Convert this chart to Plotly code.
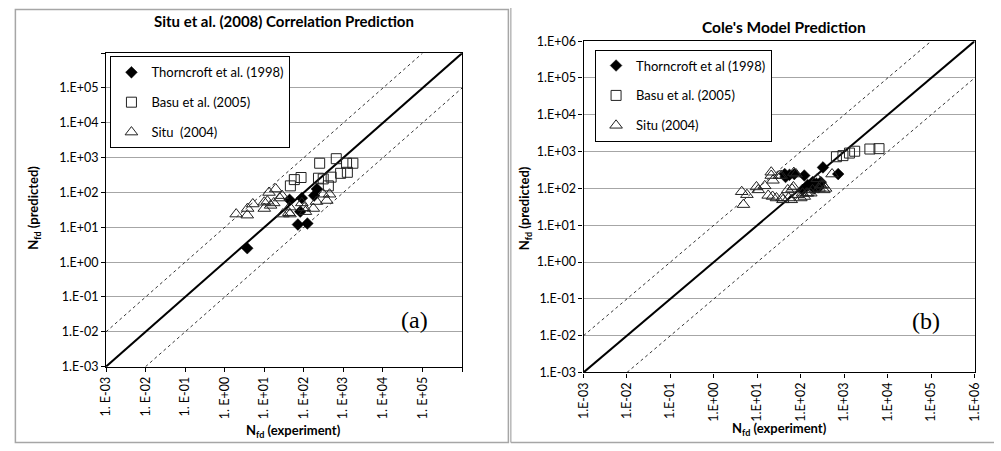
import plotly.graph_objects as go

# ---------------- data (log10 values read as N_fd) ----------------
# Panel (a): Situ et al. (2008) correlation
a_thorn_x = [0.57, 1.64, 1.95, 1.91, 1.85, 2.09, 2.26, 2.33]
a_thorn_y = [0.40, 1.79, 1.84, 1.45, 1.08, 1.11, 1.91, 2.10]

a_basu_x = [2.40, 2.82, 3.08, 3.24, 1.76, 1.93, 1.66, 2.37, 2.49, 2.69, 2.93, 3.10, 2.62]
a_basu_y = [2.84, 2.97, 2.84, 2.84, 2.37, 2.43, 2.19, 2.41, 2.39, 2.44, 2.55, 2.58, 2.19]

a_situ_x = [0.29, 0.58, 0.57, 0.71, 1.00, 1.00, 1.12, 1.29, 1.08, 1.16, 1.24, 1.39, 1.45,
            1.47, 1.62, 1.64, 1.95, 2.01, 2.24, 2.32, 2.49, 2.65, 2.58, 2.04, 1.65]
a_situ_y = [1.38, 1.54, 1.35, 1.67, 1.72, 1.54, 2.00, 2.10, 1.75, 1.63, 1.70, 1.84, 1.91,
            1.38, 1.42, 1.58, 1.70, 1.56, 1.54, 1.74, 1.95, 1.95, 1.77, 1.45, 1.38]

# Panel (b): Cole's model
b_thorn_x = [2.51, 2.86, 2.08, 1.63, 1.74, 1.85, 1.65, 2.16, 2.27, 2.36, 2.42, 2.31, 2.04, 2.46]
b_thorn_y = [2.57, 2.39, 2.35, 2.39, 2.37, 2.39, 2.31, 2.09, 2.17, 2.13, 2.04, 2.00, 1.96, 2.17]

b_basu_x = [2.82, 2.97, 3.12, 3.24, 3.59, 3.80]
b_basu_y = [2.86, 2.89, 2.96, 3.01, 3.07, 3.08]

b_situ_x = [0.64, 0.76, 0.68, 0.98, 1.02, 1.17, 1.25, 1.35, 1.32, 1.36, 1.59, 1.70, 1.78,
            1.83, 1.93, 2.04, 2.16, 2.27, 2.38, 2.51, 2.53, 2.72, 2.00, 2.08, 2.23, 2.42,
            2.46, 1.32, 1.51, 1.89, 1.44, 1.55, 1.84, 1.72, 1.57, 2.13, 2.57, 1.80]
b_situ_y = [1.91, 1.83, 1.56, 2.04, 1.96, 2.07, 1.81, 1.78, 2.35, 2.22, 1.69, 1.96, 1.69,
            2.04, 1.83, 1.87, 1.87, 1.96, 2.26, 2.09, 1.96, 2.39, 1.74, 1.78, 1.87, 2.00,
            2.09, 2.44, 2.35, 2.39, 1.74, 2.35, 2.43, 1.74, 1.74, 1.87, 2.00, 1.98]

decades = [-3, -2, -1, 0, 1, 2, 3, 4, 5, 6]
labels_b = ["1.E-03", "1.E-02", "1.E-01", "1.E+00", "1.E+01", "1.E+02",
            "1.E+03", "1.E+04", "1.E+05", "1.E+06"]
labels_a_x = ["1. E-03", "1. E-02", "1. E-01", "1. E+00", "1. E+01", "1. E+02",
              "1. E+03", "1. E+04", "1. E+05", ""]
labels_a_y = ["1.E-03", "1.E-02", "1.E-01", "1.E+00", "1.E+01", "1.E+02",
              "1.E+03", "1.E+04", "1.E+05", ""]

# reference lines: 1:1 and factor-of-ten bands
line_lo, line_hi = 1e-3, 1e6

W, H = 1001, 451
FONT = "Lato"


def px(v):
    return v / W


def py(v):
    return 1 - v / H


def pw(vals):
    return [10 ** v for v in vals]


fig = go.Figure()


def add_panel(xa, ya, legend, names, thorn, basu, situ, msz):
    ax = "x" if xa == 1 else f"x{xa}"
    ay = "y" if ya == 1 else f"y{ya}"
    # 1:1 line and +/- one decade dashed bands
    fig.add_trace(go.Scatter(x=[line_lo, line_hi], y=[line_lo, line_hi], mode="lines",
                             line=dict(color="black", width=2), xaxis=ax, yaxis=ay,
                             showlegend=False, hoverinfo="skip"))
    fig.add_trace(go.Scatter(x=[line_lo, line_hi / 10], y=[line_lo * 10, line_hi], mode="lines",
                             line=dict(color="black", width=0.8, dash="3px,3px"), xaxis=ax, yaxis=ay,
                             showlegend=False, hoverinfo="skip"))
    fig.add_trace(go.Scatter(x=[line_lo * 10, line_hi], y=[line_lo, line_hi / 10], mode="lines",
                             line=dict(color="black", width=0.8, dash="3px,3px"), xaxis=ax, yaxis=ay,
                             showlegend=False, hoverinfo="skip"))
    # data series
    fig.add_trace(go.Scatter(x=pw(thorn[0]), y=pw(thorn[1]), mode="markers", name=names[0],
                             marker=dict(symbol="diamond", size=msz[0], color="black",
                                         line=dict(color="black", width=0.5)),
                             xaxis=ax, yaxis=ay, legend=legend, legendgroup=legend + "a"))
    fig.add_trace(go.Scatter(x=pw(basu[0]), y=pw(basu[1]), mode="markers", name=names[1],
                             marker=dict(symbol="square-open", size=msz[1], color="#222",
                                         line=dict(width=1)),
                             xaxis=ax, yaxis=ay, legend=legend, legendgroup=legend + "b"))
    fig.add_trace(go.Scatter(x=pw(situ[0]), y=pw(situ[1]), mode="markers", name=names[2],
                             marker=dict(symbol="triangle-up-open", size=msz[2], color="#222",
                                         line=dict(width=1)),
                             xaxis=ax, yaxis=ay, legend=legend, legendgroup=legend + "c"))


add_panel(1, 1, "legend",
          ["Thorncroft et al. (1998)", "Basu et al. (2005)", "Situ  (2004)"],
          (a_thorn_x, a_thorn_y), (a_basu_x, a_basu_y), (a_situ_x, a_situ_y), (9, 10, 11))
add_panel(2, 2, "legend2",
          ["Thorncroft et al (1998)", "Basu et al. (2005)", "Situ (2004)"],
          (b_thorn_x, b_thorn_y), (b_basu_x, b_basu_y), (b_situ_x, b_situ_y), (9, 10, 11))

tickfont = dict(family=FONT, size=12.5, color="black")
axis_common = dict(type="log", range=[-3, 6], showline=True, linecolor="black", linewidth=1.2,
                   mirror=True, ticks="outside", ticklen=4, tickcolor="black",
                   tickfont=tickfont, zeroline=False)

fig.update_layout(
    width=W, height=H, margin=dict(l=0, r=0, t=0, b=0),
    paper_bgcolor="white", plot_bgcolor="white",
    font=dict(family=FONT, color="black"),
    xaxis=dict(axis_common, domain=[px(99.5), px(461)], anchor="y", showgrid=False,
               tickvals=[10 ** d for d in decades], ticktext=labels_a_x, tickangle=-90),
    yaxis=dict(axis_common, domain=[py(371), py(46.7)], anchor="x", showgrid=True,
               gridcolor="#a6a6a6", gridwidth=1.3,
               tickvals=[10 ** d for d in decades], ticktext=labels_a_y),
    xaxis2=dict(axis_common, domain=[px(584.3), px(981.3)], anchor="y2", showgrid=False,
                tickvals=[10 ** d for d in decades], ticktext=labels_b, tickangle=-90),
    yaxis2=dict(axis_common, domain=[py(377), py(34.3)], anchor="x2", showgrid=True,
                gridcolor="#a6a6a6", gridwidth=1.3,
                tickvals=[10 ** d for d in decades], ticktext=labels_b),
    legend=dict(x=px(104), y=py(50), xanchor="left", yanchor="top",
                bordercolor="black", borderwidth=1, bgcolor="white",
                font=dict(family=FONT, size=13), tracegroupgap=10),
    legend2=dict(x=px(596), y=py(43), xanchor="left", yanchor="top",
                 bordercolor="black", borderwidth=1, bgcolor="white",
                 font=dict(family=FONT, size=13), tracegroupgap=10),
    showlegend=True,
)

# panel frames
fig.add_shape(type="rect", xref="paper", yref="paper",
              x0=px(7.5), x1=px(508), y0=py(449.5), y1=py(1.5),
              line=dict(color="#a6a6a6", width=1.5))
fig.add_shape(type="line", xref="paper", yref="paper",
              x0=px(510.5), x1=px(510.5), y0=py(449.5), y1=1,
              line=dict(color="#a6a6a6", width=1.2))
fig.add_shape(type="line", xref="paper", yref="paper",
              x0=px(510.5), x1=1, y0=py(449.5), y1=py(449.5),
              line=dict(color="#a6a6a6", width=1.5))

ann = [
    dict(x=px(280), y=py(13), text="<b>Situ et al. (2008) Correlation Prediction</b>", size=15),
    dict(x=px(788), y=py(20), text="<b>Cole's Model Prediction</b>", size=15.5),
    dict(x=px(290), y=py(438), text="<b>N<sub>fd</sub> (experiment)</b>", size=13),
    dict(x=px(783), y=py(436), text="<b>N<sub>fd</sub> (experiment)</b>", size=13),
]
for a in ann:
    fig.add_annotation(x=a["x"], y=a["y"], xref="paper", yref="paper", text=a["text"],
                       showarrow=False, font=dict(family=FONT, size=a["size"], color="black"),
                       xanchor="center", yanchor="middle")
for xc in (27, 525):
    fig.add_annotation(x=px(xc), y=py(207), xref="paper", yref="paper",
                       text="<b>N<sub>fd</sub> (predicted)</b>", showarrow=False, textangle=-90,
                       font=dict(family=FONT, size=13, color="black"),
                       xanchor="center", yanchor="middle")
for xc, yc, t in ((413, 323, "(a)"), (932, 324, "(b)")):
    fig.add_annotation(x=px(xc), y=py(yc), xref="paper", yref="paper", text=t,
                       showarrow=False, font=dict(family="Liberation Serif", size=24, color="black"),
                       xanchor="center", yanchor="middle")

fig.write_html("out.html")
